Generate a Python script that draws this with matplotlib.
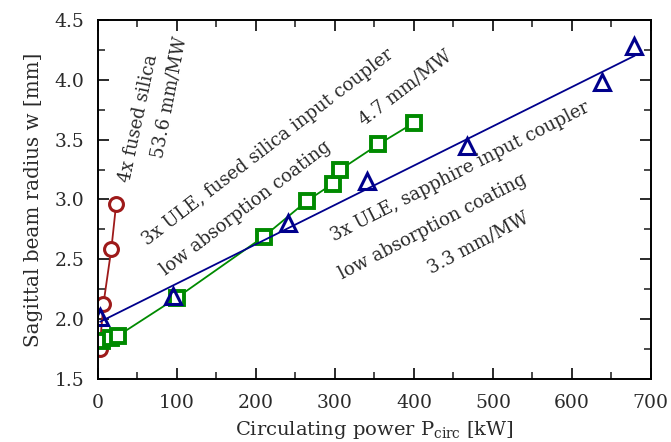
# sagittal beam radius vs circulating power, three mirror sets

import numpy as np
import matplotlib
matplotlib.use("Agg")
import matplotlib.pyplot as plt
from matplotlib.ticker import MultipleLocator, FormatStrFormatter

# 4x fused silica (red circles)
fs_power = [2, 7, 17, 23]
fs_radius = [1.75, 2.13, 2.59, 2.96]

# 3x ULE, fused silica input coupler (green squares)
ule_fs_power = [5, 17, 25, 100, 210, 265, 297, 307, 355, 400]
ule_fs_radius = [1.82, 1.84, 1.86, 2.18, 2.69, 2.99, 3.13, 3.25, 3.46, 3.64]

# 3x ULE, sapphire input coupler (blue triangles)
ule_sa_power = [3, 95, 240, 340, 467, 638, 679]
ule_sa_radius = [2.02, 2.19, 2.80, 3.15, 3.45, 3.98, 4.28]

red = "#9e1a1a"
green = "#008a00"
blue = "#00008c"
ink = "#2a2a2a"

plt.rcParams["font.family"] = "DejaVu Serif"
plt.rcParams["mathtext.fontset"] = "dejavuserif"

fig = plt.figure(figsize=(6.71, 4.42), dpi=100)
ax = fig.add_axes([0.146, 0.1425, 0.824, 0.8125])

ax.plot(fs_power, fs_radius, color=red, lw=1.3, marker="o", ms=10,
        mfc="white", mec=red, mew=2.2)
ax.plot(ule_fs_power, ule_fs_radius, color=green, lw=1.3, marker="s", ms=9.5,
        mfc="white", mec=green, mew=2.8)

# straight fit through the sapphire set
k, b = np.polyfit(ule_sa_power, ule_sa_radius, 1)
xf = np.array([min(ule_sa_power), max(ule_sa_power)])
ax.plot(xf, k * xf + b, color=blue, lw=1.3)
ax.plot(ule_sa_power, ule_sa_radius, ls="none", marker="^", ms=12,
        mfc="none", mec=blue, mew=2.2)

ax.set_xlim(0, 700)
ax.set_ylim(1.5, 4.5)
ax.xaxis.set_major_locator(MultipleLocator(100))
ax.xaxis.set_minor_locator(MultipleLocator(50))
ax.yaxis.set_major_locator(MultipleLocator(0.5))
ax.yaxis.set_minor_locator(MultipleLocator(0.25))
ax.yaxis.set_major_formatter(FormatStrFormatter("%.1f"))
ax.tick_params(which="both", direction="in", top=True, right=True,
               labelsize=13.5, colors=ink)
ax.tick_params(which="major", length=8, width=1.4)
ax.tick_params(which="minor", length=5, width=1.2)
ax.tick_params(axis="x", pad=11)
ax.tick_params(axis="y", pad=10)
for s in ax.spines.values():
    s.set_linewidth(1.4)

ax.set_xlabel(r"Circulating power P$_{\rm circ}$ [kW]", fontsize=14,
              color=ink, labelpad=5)
ax.set_ylabel("Sagittal beam radius w [mm]", fontsize=14.3,
              color=ink, labelpad=8)

txt = dict(fontsize=13, color=ink, ha="center", va="center",
           rotation_mode="anchor")
ax.text(51, 3.68, "4x fused silica", rotation=78, **txt)
ax.text(91, 3.85, "53.6 mm/MW", rotation=79, **txt)
ax.text(215, 3.44, "3x ULE, fused silica input coupler", rotation=37.5, **txt)
ax.text(187, 2.93, "low absorption coating", rotation=37.4, **txt)
ax.text(389, 3.93, "4.7 mm/MW", rotation=37.4, **txt)
ax.text(458, 3.23, "3x ULE, sapphire input coupler", rotation=27, **txt)
ax.text(424, 2.77, "low absorption coating", rotation=27.5, **txt)
ax.text(481, 2.64, "3.3 mm/MW", rotation=28, **txt)

fig.savefig("out.png", dpi=100)
